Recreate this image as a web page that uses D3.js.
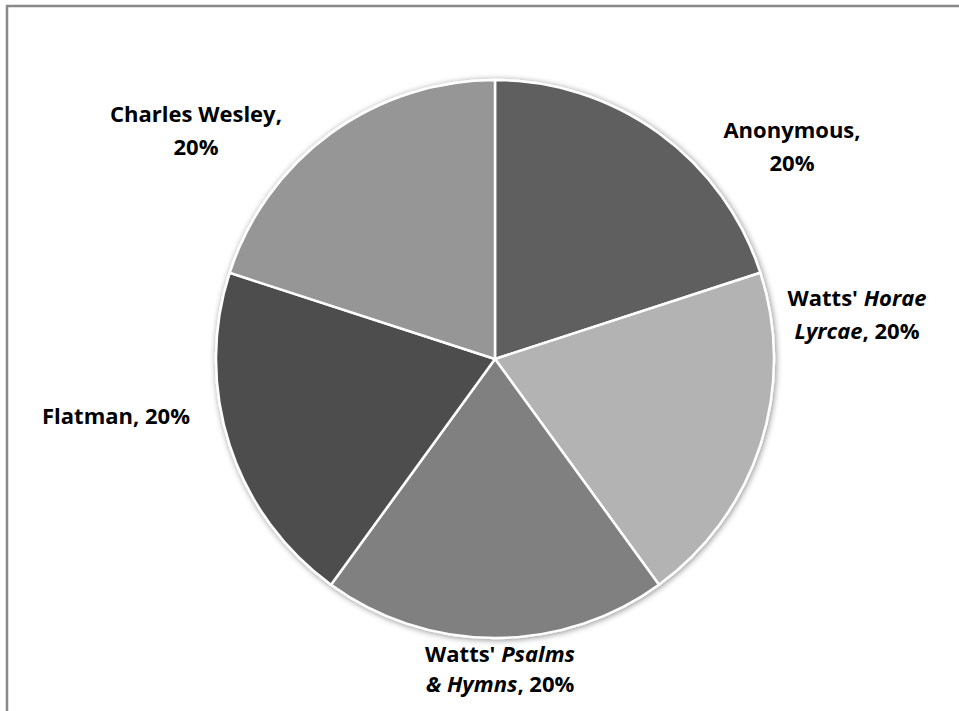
<!DOCTYPE html>
<html><head><meta charset="utf-8">
<script src="https://cdn.jsdelivr.net/npm/d3@7"></script>
<style>body{margin:0;background:#fff;}svg{display:block;}</style>
</head><body>
<script>
const categories = ["Anonymous", "Watts' Horae Lyrcae", "Watts' Psalms & Hymns", "Flatman", "Charles Wesley"];
const values = [20, 20, 20, 20, 20];
const colors = ["#5f5f5f", "#b3b3b3", "#808080", "#4d4d4d", "#969696"];
// label lines: array of segments [text, italic]
const labelLines = [
  [[["Anonymous,", false]], [["20%", false]]],
  [[["Watts' ", false], ["Horae", true]], [["Lyrcae", true], [", 20%", false]]],
  [[["Watts' ", false], ["Psalms", true]], [["& Hymns", true], [", 20%", false]]],
  [[["Flatman, 20%", false]]],
  [[["Charles Wesley,", false]], [["20%", false]]]
];

const W = 959, H = 711;
const svg = d3.select("body").append("svg").attr("width", W).attr("height", H);
const defs = svg.append("defs");
const f = defs.append("filter").attr("id","sh").attr("x","-20%").attr("y","-20%").attr("width","140%").attr("height","140%");
f.append("feGaussianBlur").attr("in","SourceAlpha").attr("stdDeviation",3).attr("result","b");
f.append("feOffset").attr("in","b").attr("dx",1).attr("dy",1).attr("result","o");
f.append("feComponentTransfer").attr("in","o").attr("result","s").append("feFuncA").attr("type","linear").attr("slope",0.45);
const m = f.append("feMerge"); m.append("feMergeNode").attr("in","s"); m.append("feMergeNode").attr("in","SourceGraphic");

// frame
svg.append("path").attr("d", `M7,${H} V6 H${W}`).attr("fill","none").attr("stroke","#898989").attr("stroke-width",2.5);

const cx = 495, cy = 359, R = 279;
const pie = d3.pie().sort(null).value(d => d)(values);
const arc = d3.arc().innerRadius(0).outerRadius(R);
const g = svg.append("g").attr("transform", `translate(${cx},${cy})`);
const sg = g.append("g").attr("filter","url(#sh)");
sg.selectAll("path").data(pie).join("path")
  .attr("d", arc).attr("fill", (d,i) => colors[i])
  .attr("stroke", "#fff").attr("stroke-width", 2.5).attr("stroke-linejoin","round");

// label placement (center x, first-line baseline, line spacing)
const labelPos = [
  {x: 792, y: 138, dy: 33},
  {x: 857, y: 306, dy: 33},
  {x: 500, y: 662, dy: 30},
  {x: 116, y: 424, dy: 33},
  {x: 196, y: 122, dy: 33}
];
const lg = svg.append("g").attr("font-family", "'Open Sans', Lato, sans-serif").attr("font-weight", "bold").attr("font-size", "22px").attr("fill", "#000");
labelLines.forEach((lines, i) => {
  const p = labelPos[i];
  lines.forEach((segs, j) => {
    const t = lg.append("text").attr("x", p.x).attr("y", p.y + j * p.dy).attr("text-anchor", "middle");
    segs.forEach(([s, it]) => t.append("tspan").attr("font-style", it ? "italic" : "normal").text(s));
  });
});
</script>
</body></html>
